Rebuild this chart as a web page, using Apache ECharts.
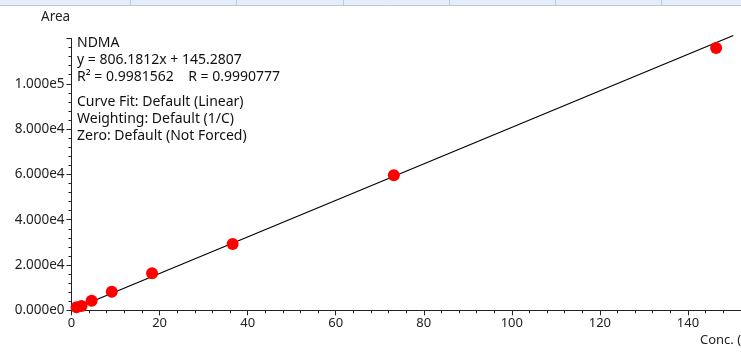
<!DOCTYPE html>
<html><head><meta charset="utf-8">
<script src="https://cdn.jsdelivr.net/npm/echarts@6/dist/echarts.min.js"></script>
<style>html,body{margin:0;padding:0;background:#fff;overflow:hidden;width:741px;height:352px}#c{width:779px;height:352px}</style>
</head><body><div id="c"></div>
<script>
// Calibration points (concentration, area)
const conc = [1.144, 2.288, 4.575, 9.15, 18.3, 36.6, 73.2, 146.4];
const area = [1325, 1900, 4240, 8210, 16340, 29270, 59600, 115800];
// Regression line endpoints
const fitX = [0, 150.3];
const fitY = [145.3, 121320];
// Axis ticks
const xTicks = [0, 20, 40, 60, 80, 100, 120, 140];
const yTicks = [0, 20000, 40000, 60000, 80000, 100000];
const yLabels = ['0.000e0', '2.000e4', '4.000e4', '6.000e4', '8.000e4', '1.000e5'];
// Annotation text
const infoLines = ['NDMA', 'y = 806.1812x + 145.2807', 'R\u00b2 = 0.9981562    R = 0.9990777'];
const infoLines2 = ['Curve Fit: Default (Linear)', 'Weighting: Default (1/C)', 'Zero: Default (Not Forced)'];
const headerCells = [130, 236, 343, 449, 555, 661];

const font = 'Noto Sans';
const chart = echarts.init(document.getElementById('c'));
const graphics = [
  {type:'rect', shape:{x:0,y:0,width:779,height:5}, style:{fill:'#e4edf8', stroke:null}, z:10},
  {type:'line', shape:{x1:0,y1:5.5,x2:779,y2:5.5}, style:{stroke:'#b9cbe3', lineWidth:1}, z:11},
  {type:'text', left:41, top:10, style:{text:'Area', font:'13.5px "'+font+'"', fill:'#222'}},
  {type:'text', left:700, top:334, style:{text:'Conc. (ng/mL)', font:'13px "'+font+'"', fill:'#222'}},
  {type:'text', left:77, top:34.5, style:{text:infoLines.join('\n'), font:'14px "'+font+'"', lineHeight:17, fill:'#111'}},
  {type:'text', left:77, top:93.5, style:{text:infoLines2.join('\n'), font:'14px "'+font+'"', lineHeight:17, fill:'#111'}}
];
headerCells.forEach(x => graphics.push({type:'line', shape:{x1:x+0.5,y1:0,x2:x+0.5,y2:5}, style:{stroke:'#b9cbe3', lineWidth:1}, z:11}));

chart.setOption({
  animation:false,
  grid:{left:71.5, top:38.5, bottom:41.7, width:707.2},
  xAxis:{type:'value', min:0, max:160, interval:20,
    axisLine:{lineStyle:{color:'#222', width:1}},
    axisTick:{show:true, length:5, lineStyle:{color:'#222'}},
    minorTick:{show:true, splitNumber:5, length:3, lineStyle:{color:'#222'}},
    splitLine:{show:false},
    axisLabel:{color:'#222', fontFamily:font, fontSize:13, margin:6,
      formatter:v => xTicks.indexOf(v) >= 0 ? String(v) : ''}},
  yAxis:{type:'value', min:0, max:120000, interval:20000,
    axisLine:{show:true, lineStyle:{color:'#222', width:1}},
    axisTick:{show:true, length:5, lineStyle:{color:'#222'}},
    minorTick:{show:true, splitNumber:5, length:3, lineStyle:{color:'#222'}},
    splitLine:{show:false},
    axisLabel:{color:'#222', fontFamily:font, fontSize:13.5, margin:7, showMaxLabel:false,
      formatter:v => { const i = yTicks.indexOf(v); return i >= 0 ? yLabels[i] : ''; }}},
  graphic: graphics,
  series:[
    {type:'line', data:fitX.map((x,i)=>[x, fitY[i]]), symbol:'none', clip:false,
      lineStyle:{color:'#000', width:1.2}, z:2, silent:true},
    {type:'scatter', data:conc.map((x,i)=>[x, area[i]]), symbolSize:12,
      itemStyle:{color:'#ff0000', opacity:1}, z:3}
  ]
});
</script></body></html>
